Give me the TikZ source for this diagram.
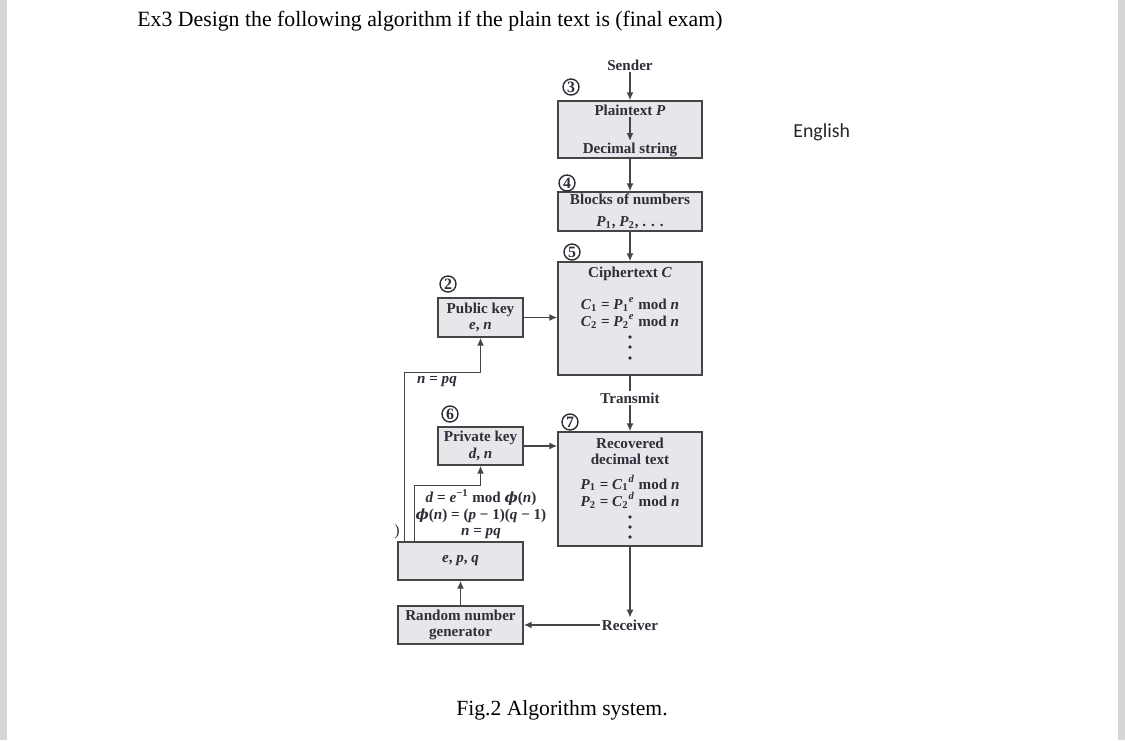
\documentclass[tikz,border=0pt]{standalone}
\usepackage{fontspec}
\setmainfont{Liberation Serif}
\newfontfamily\sidefont{Carlito}
\newfontfamily\grkfont{DejaVu Serif}
\usetikzlibrary{arrows.meta,positioning}
\definecolor{boxfill}{HTML}{E6E7EA}
\definecolor{boxline}{HTML}{454545}
\definecolor{ink}{HTML}{2E2E38}
\definecolor{pagegray}{HTML}{D6D6D6}
\newcommand{\mvar}[1]{\textit{#1}}
\newcommand{\subsup}[2]{\textsubscript{#1}\textsuperscript{#2}}
\newcommand{\phiof}{{\grkfont\fontsize{8}{9}\selectfont\itshape ϕ}}
\tikzset{
	blk/.style={draw=boxline,fill=boxfill,line width=0.9pt,inner sep=0pt},
	lbl/.style={text=ink,font=\fontsize{8.6}{9.4}\selectfont\bfseries,inner sep=1pt,align=center},
	num/.style={draw=ink,circle,line width=0.8pt,minimum size=0.32cm,inner sep=0pt,text=ink,font=\fontsize{9}{9}\selectfont\bfseries},
	flow/.style={draw=boxline,line width=0.8pt,-{Latex[length=4.5pt,width=4pt]}},
	wire/.style={draw=boxline,line width=0.8pt}
}
\begin{document}
\begin{tikzpicture}[x=0.02cm,y=-0.02cm]
	\useasboundingbox (0,0) rectangle (1125,740);
	\fill[white] (0,0) rectangle (1125,740);
	\fill[pagegray] (0,0) rectangle (7,740);
	\fill[pagegray] (1118,0) rectangle (1125,740);
	% page text
	\node[anchor=base west,inner sep=0pt,font=\fontsize{12.4}{14}\selectfont] (title) at (137,27) {Ex3 Design the following algorithm if the plain text is (final exam)};
	\node[anchor=base west,inner sep=0pt,font=\sidefont\fontsize{11.3}{13}\selectfont,text=black!85] (lang) at (793,137) {English};
	\node[anchor=base west,inner sep=0pt,font=\fontsize{12.3}{14}\selectfont] (fig) at (456,715) {Fig.2 Algorithm system.};
	% boxes
	\node[blk,minimum width=2.88cm,minimum height=1.14cm] (b1) at (630,129.5) {};
	\node[blk,lbl,minimum width=2.88cm,minimum height=0.78cm,font=\fontsize{8.6}{12.5}\selectfont\bfseries] (b2) at (630,211.5) {Blocks of numbers\\ \mvar{P}\textsubscript{1}, \mvar{P}\textsubscript{2}, . . .};
	\node[blk,minimum width=2.88cm,minimum height=2.26cm] (b3) at (630,318.5) {};
	\node[blk,minimum width=2.88cm,minimum height=2.28cm] (b4) at (630,489) {};
	\node[blk,lbl,minimum width=1.70cm,minimum height=0.78cm] (pub) at (480.5,317.5) {Public key\\ \mvar{e}, \mvar{n}};
	\node[blk,lbl,minimum width=1.70cm,minimum height=0.76cm,font=\fontsize{8.6}{10}\selectfont\bfseries] (priv) at (480.5,446) {Private key\\ \mvar{d}, \mvar{n}};
	\node[blk,lbl,minimum width=2.50cm,minimum height=0.76cm] (epq) at (460.5,561) {\mvar{e}, \mvar{p}, \mvar{q}};
	\node[blk,lbl,minimum width=2.50cm,minimum height=0.76cm] (rng) at (460.5,625) {Random number\\ generator};
	% texts
	\node[lbl] (snd) at (630,65) {Sender};
	\node[lbl] (pt) at (630,110) {Plaintext \mvar{P}};
	\node[lbl] (ds) at (630,150) {Decimal string};
	\node[lbl] (ct) at (630,274) {Ciphertext \mvar{C}};
	\node[lbl,font=\fontsize{8.6}{9.8}\selectfont\bfseries] (enc) at (630,313) {\mvar{C}\textsubscript{1} = \mvar{P}\subsup{1}{\mvar{e}} mod \mvar{n}\\ \mvar{C}\textsubscript{2} = \mvar{P}\subsup{2}{\mvar{e}} mod \mvar{n}};
	\node[lbl] (tr) at (630,398) {Transmit};
	\node[lbl] (rcv) at (630,451.5) {Recovered\\ decimal text};
	\node[lbl,font=\fontsize{8.6}{9.8}\selectfont\bfseries] (dec) at (630,491.5) {\mvar{P}\textsubscript{1} = \mvar{C}\subsup{1}{\mvar{d}} mod \mvar{n}\\ \mvar{P}\textsubscript{2} = \mvar{C}\subsup{2}{\mvar{d}} mod \mvar{n}};
	\node[lbl] (rec) at (630,625) {Receiver};
	\node[lbl] (npq) at (437,382) {\mvar{n} = \mvar{pq}};
	\node[lbl] (keys) at (481,514) {\mvar{d} = \mvar{e}\textsuperscript{−1} mod \phiof(\mvar{n})\\ \phiof(\mvar{n}) = (\mvar{p} − 1)(\mvar{q} − 1)\\ \mvar{n} = \mvar{pq}};
	\node[lbl,font=\fontsize{9}{10}\selectfont] (stray) at (397,532) {)};
	% step numbers
	\node[num] (c2) at (448,284) {2};
	\node[num] (c3) at (571,87) {3};
	\node[num] (c4) at (567,183) {4};
	\node[num] (c5) at (572,252) {5};
	\node[num] (c6) at (450,414) {6};
	\node[num] (c7) at (570,422) {7};
	% vertical dots
	\foreach \y in {337,347,358,517,527,537}
		\fill[ink] (630,\y) circle (1.1pt);
	% connectors
	\path[flow] (snd) -- (b1.north);
	\path[flow] (pt) -- (ds);
	\path[flow] (b1.south) -- (b2.north);
	\path[flow] (b2.south) -- (b3.north);
	\path[wire] (b3.south) -- (tr.north);
	\path[flow] (tr.south) -- (b4.north);
	\path[flow] (pub.east) -- (b3.west |- pub.east);
	\path[flow] (priv.east) -- (b4.west |- priv.east);
	\path[flow] (b4.south) -- (rec.north);
	\path[flow] (rec.west) -- (rng.east);
	\path[flow] (rng.north) -- (epq.south);
	\path[flow] ([xshift=0.14cm]epq.north west) |- ([yshift=-0.7cm]pub.south) -- (pub.south);
	\path[flow] ([xshift=0.34cm]epq.north west) |- ([yshift=-0.4cm]priv.south) -- (priv.south);
\end{tikzpicture}
\end{document}
